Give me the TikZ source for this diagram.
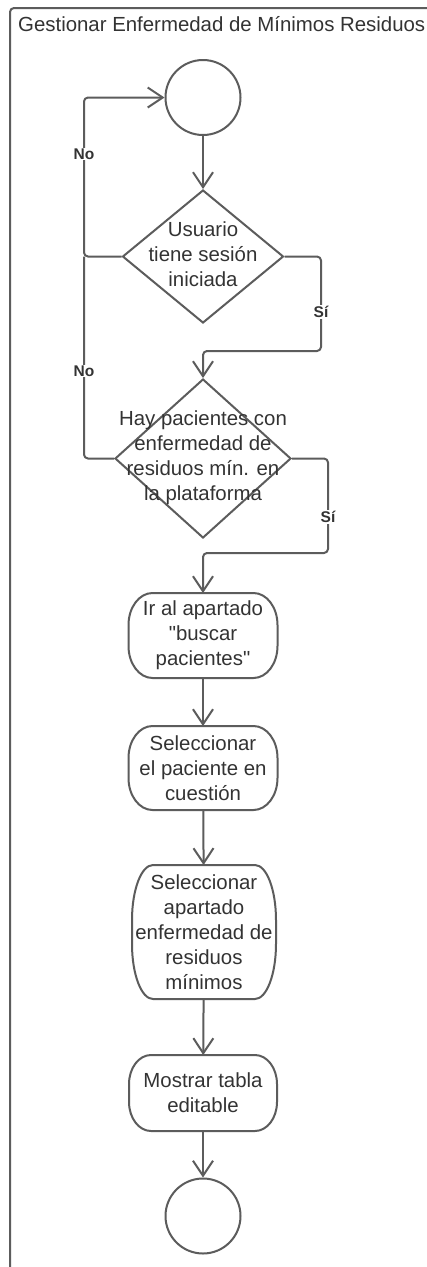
\documentclass[tikz,border=0pt]{standalone}
\usepackage{fontspec}
\setmainfont{Liberation Sans}[Ligatures=TeXOff]
\usetikzlibrary{arrows.meta,shapes.geometric,calc}
\definecolor{ln}{HTML}{5C5C5C}
\definecolor{tx}{HTML}{333333}
\tikzset{
  base/.style={draw=ln, line width=2pt, fill=white},
  terminal/.style={base, circle, minimum size=75pt, inner sep=0pt},
  decision/.style={base, diamond, inner sep=0pt},
  activity/.style={rectangle, inner sep=0pt, outer sep=0pt,
    align=center, text=tx, font=\fontsize{20.4}{25}\selectfont},
  txt/.style={align=center, text=tx, inner sep=0pt, font=\fontsize{20.4}{25}\selectfont},
  guard/.style={fill=white, text=tx, inner sep=1pt, font=\fontsize{15.5}{18}\selectfont\bfseries},
  flow/.style={draw=ln, line width=2pt, line join=round, rounded corners=4pt},
  arr/.style={flow, -{Straight Barb[length=15pt,width=20pt]}},
}
% outline of an action node: a box whose corners are quarter ellipses
% with horizontal radius #2 and vertical radius #3
\newcommand\actoutline[3]{%
  \pgfmathsetmacro\bxkx{#2*(1-0.5523)}%
  \pgfmathsetmacro\bxky{#3*(1-0.5523)}%
  \draw[draw=ln, line width=2pt, line join=round]
    ($(#1.north west)+(#2,0)$) -- ($(#1.north east)+(-#2,0)$)
    .. controls ($(#1.north east)+(-\bxkx,0)$) and ($(#1.north east)+(0,\bxky)$) .. ($(#1.north east)+(0,#3)$)
    -- ($(#1.south east)+(0,-#3)$)
    .. controls ($(#1.south east)+(0,-\bxky)$) and ($(#1.south east)+(-\bxkx,0)$) .. ($(#1.south east)+(-#2,0)$)
    -- ($(#1.south west)+(#2,0)$)
    .. controls ($(#1.south west)+(\bxkx,0)$) and ($(#1.south west)+(0,-\bxky)$) .. ($(#1.south west)+(0,-#3)$)
    -- ($(#1.north west)+(0,#3)$)
    .. controls ($(#1.north west)+(0,\bxky)$) and ($(#1.north west)+(\bxkx,0)$) .. cycle;
}
\begin{document}
\begin{tikzpicture}[x=1pt,y=-1pt]
\useasboundingbox (0,0) rectangle (427,1267);
\clip (0,0) rectangle (427,1267);
\fill[white] (0,0) rectangle (427,1267);

% swimlane frame and its title
\draw[draw=ln, line width=2pt, rounded corners=4pt] (10,1300) -- (10,8) -- (460,8);
\node[txt, anchor=base west] (title) at (18,31.5) {Gestionar Enfermedad de Mínimos Residuos};

% nodes
\node[terminal] (start) at (203,97.5) {};
\node[decision, minimum width=161pt, minimum height=133pt] (d1) at (203,256.5) {};
\node[txt] (d1t) at (203,254) {Usuario\\tiene sesión\\iniciada};
\node[decision, minimum width=176pt, minimum height=159pt] (d2) at (203,458.5) {};
\node[txt] (d2t) at (203,458) {Hay pacientes con\\enfermedad de\\residuos mín. en\\la plataforma};
\node[activity, minimum width=149pt, minimum height=85pt] (a1) at (203,635.5) {Ir al apartado\\"buscar\\pacientes"};
\node[activity, minimum width=149pt, minimum height=84pt] (a2) at (203,768) {Seleccionar\\el paciente en\\cuestión};
\node[activity, minimum width=144pt, minimum height=134pt] (a3) at (204,932) {Seleccionar\\apartado\\enfermedad de\\residuos\\mínimos};
\node[activity, minimum width=148pt, minimum height=76pt] (a4) at (203,1093) {Mostrar tabla\\editable};
\node[terminal] (end) at (203,1216) {};

\actoutline{a1}{24}{32}
\actoutline{a2}{24}{32}
\actoutline{a3}{21}{55}
\actoutline{a4}{22}{29}

% bend points of the guarded flows
\coordinate (noTop) at (84,97.5);
\coordinate (noJoin) at (84,256.5);
\coordinate (siOne) at (321,351);
\coordinate (siTwo) at (328,553);

% flows
\draw[arr] (start) -- (d1);
\draw[arr] (d1.west) -| (noTop) -- (start.west);
\draw[flow] (d2.west) -| (noJoin);
\draw[arr] (d1.east) -| (siOne) -| (d2.north);
\draw[arr] (d2.east) -| (siTwo) -| (a1.north);
\draw[arr] (a1) -- (a2);
\draw[arr] (a2) -- (a3);
\draw[arr] (a3) -- (a4);
\draw[arr] (a4) -- (end);

% guards
\node[guard] (no1) at (84,154) {No};
\node[guard] (no2) at (84,371) {No};
\node[guard] (si1) at (321,312) {Sí};
\node[guard] (si2) at (328,517) {Sí};
\end{tikzpicture}
\end{document}
